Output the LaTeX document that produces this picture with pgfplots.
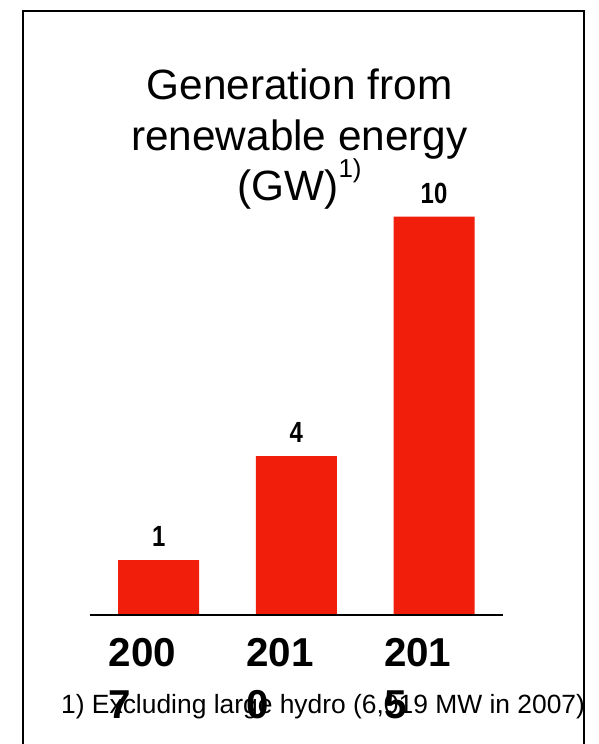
\documentclass[border=0pt]{standalone}
\usepackage{fontspec}
\setmainfont{Liberation Sans}
\usepackage{pgfplots}
\pgfplotsset{compat=1.18}
\definecolor{barred}{RGB}{241,30,12}
\begin{document}
\begin{tikzpicture}
\path[use as bounding box] (0bp,0bp) rectangle (599bp,-744bp);
\draw[line width=2bp] (22.5bp,-744bp) -- (22.5bp,-11bp) -- (583.5bp,-11bp) -- (583.5bp,-744bp);
\node[anchor=base, inner sep=0pt, font=\fontsize{42.5}{50}\selectfont] at (299.5bp,-99bp) {Generation from};
\node[anchor=base, inner sep=0pt, font=\fontsize{42.5}{50}\selectfont] at (299.5bp,-150bp) {renewable energy};
\node[anchor=base, inner sep=0pt, font=\fontsize{42.5}{50}\selectfont] at (299.5bp,-200bp) {(GW)\raisebox{23bp}{\fontsize{26}{30}\selectfont 1)}};
\begin{axis}[
  at={(89.85bp,-615bp)}, anchor=south west,
  scale only axis, width=413bp, height=398.3bp,
  xmin=-0.5, xmax=2.5, ymin=0, ymax=10,
  ybar, bar width=81bp,
  axis x line*=bottom, hide y axis,
  x axis line style={draw=none},
  xtick=data, xticklabels={{200\\7},{201\\0},{201\\5}},
  major tick length=0pt, xtick style={draw=none},
  xticklabel style={text width=100bp, align=left, font=\fontsize{40.5}{52}\selectfont\bfseries, anchor=north, inner sep=0pt, yshift=-23bp},
  point meta=explicit symbolic,
  nodes near coords={\scalebox{1}[1.22]{\pgfplotspointmeta}},
  every node near coord/.append style={anchor=south, inner sep=0pt, yshift=13bp, font=\fontsize{24}{28}\selectfont\bfseries},
  clip=false]
\addplot[fill=barred, draw=none] table[meta=label] {
x y label
0 1.38 1
1 3.99 4
2 10 10
};
\draw[line width=2.6bp, black] (axis cs:-0.5,0) -- (axis cs:2.5,0);
\end{axis}
\node[anchor=base west, inner sep=0pt, font=\fontsize{26.5}{30}\selectfont] at (61bp,-713.5bp) {1) Excluding large hydro (6,019 MW in 2007)};
\end{tikzpicture}
\end{document}
